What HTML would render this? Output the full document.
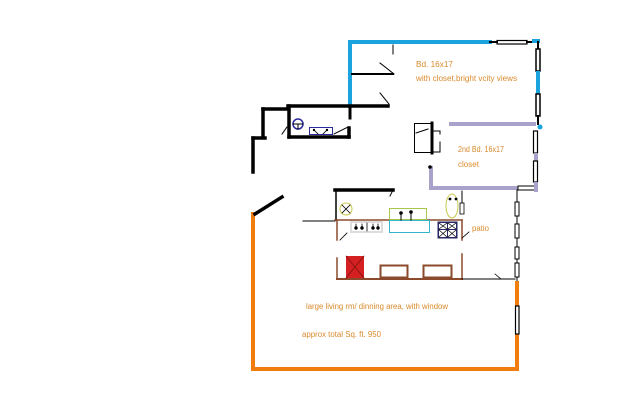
<!DOCTYPE html>
<html><head><meta charset="utf-8"><style>
html,body{margin:0;padding:0;background:#fff;}
svg{display:block;}
text{font-family:"Liberation Sans",sans-serif;font-size:8px;fill:#d98a2b;}
</style></head><body>
<svg width="640" height="400" viewBox="0 0 640 400" xmlns="http://www.w3.org/2000/svg">
<g stroke-linecap="square" fill="none">
<!-- Blue bedroom walls -->
<line x1="350" y1="42" x2="490" y2="42" stroke="#1aa3dc" stroke-width="4"/>
<line x1="350" y1="42" x2="350" y2="106" stroke="#1aa3dc" stroke-width="4"/>
<rect x="497" y="40.5" width="30" height="3.5" fill="#fff" stroke="#000" stroke-width="1.2"/>
<line x1="490" y1="42" x2="497" y2="42" stroke="#000" stroke-width="2"/>
<line x1="527" y1="42" x2="534" y2="42" stroke="#000" stroke-width="2"/>
<line x1="534" y1="41" x2="538" y2="41" stroke="#1aa3dc" stroke-width="4"/>
<!-- right wall upper -->
<line x1="538" y1="42" x2="538" y2="48" stroke="#000" stroke-width="2"/>
<rect x="536" y="49" width="4" height="22" fill="#fff" stroke="#000" stroke-width="1.5"/>
<line x1="538" y1="73" x2="538" y2="92" stroke="#1aa3dc" stroke-width="4"/>
<rect x="536" y="94" width="4" height="22" fill="#fff" stroke="#000" stroke-width="1.5"/>
<line x1="538" y1="116" x2="538" y2="124" stroke="#000" stroke-width="2"/>
<circle cx="540" cy="127" r="2.5" fill="#1aa3dc" stroke="none"/>
<!-- closet lines in bedroom -->
<line x1="352" y1="74" x2="393" y2="74" stroke="#000" stroke-width="2"/>
<line x1="380" y1="63" x2="394" y2="74" stroke="#000" stroke-width="1"/>
<line x1="393" y1="45" x2="393" y2="54" stroke="#000" stroke-width="1"/>
<line x1="380" y1="93" x2="389" y2="104" stroke="#000" stroke-width="1"/>
<!-- black walls -->
<line x1="288" y1="106" x2="388" y2="106" stroke="#000" stroke-width="3.5"/>
<line x1="350" y1="106" x2="350" y2="118" stroke="#000" stroke-width="3"/>
<line x1="263" y1="109" x2="288" y2="109" stroke="#000" stroke-width="3.5"/>
<line x1="263" y1="109" x2="263" y2="137" stroke="#000" stroke-width="3.5"/>
<line x1="253" y1="138" x2="265" y2="138" stroke="#000" stroke-width="3.5"/>
<line x1="253" y1="138" x2="253" y2="172" stroke="#000" stroke-width="3.5"/>
<line x1="289" y1="106" x2="289" y2="137" stroke="#000" stroke-width="3.5"/>
<line x1="289" y1="137" x2="349" y2="137" stroke="#000" stroke-width="3.5"/>
<line x1="349" y1="128" x2="349" y2="137" stroke="#000" stroke-width="3.5"/>
<line x1="282" y1="134" x2="287" y2="127" stroke="#000" stroke-width="1"/>
<line x1="334" y1="134" x2="348" y2="127" stroke="#000" stroke-width="1"/>
<!-- toilet & sink -->
<circle cx="298" cy="124" r="5" stroke="#2a2a9a" stroke-width="1.5"/>
<line x1="293" y1="124" x2="303" y2="124" stroke="#000" stroke-width="1"/>
<line x1="298" y1="124" x2="298" y2="129" stroke="#000" stroke-width="1"/>
<rect x="309.5" y="127.5" width="23" height="7" stroke="#2a2a9a" stroke-width="1"/>
<circle cx="314" cy="130" r="1.2" fill="#000"/><circle cx="327" cy="130" r="1.2" fill="#000"/>
<line x1="314" y1="130" x2="318" y2="134" stroke="#000" stroke-width="0.8"/>
<line x1="327" y1="130" x2="323" y2="134" stroke="#000" stroke-width="0.8"/>
<!-- closet box -->
<rect x="414.5" y="123.5" width="17" height="29" stroke="#000" stroke-width="1"/>
<line x1="416" y1="133" x2="428" y2="129" stroke="#000" stroke-width="1"/>
<line x1="432" y1="123" x2="432" y2="153" stroke="#000" stroke-width="3"/>
<path d="M433 131 H440 V134 M433 152 H440 V142" stroke="#000" stroke-width="1"/>
<!-- purple 2nd bedroom -->
<line x1="451" y1="124" x2="534" y2="124" stroke="#a9a3cc" stroke-width="4"/>
<line x1="431" y1="168" x2="431" y2="188" stroke="#a9a3cc" stroke-width="4"/>
<line x1="431" y1="188" x2="518" y2="188" stroke="#a9a3cc" stroke-width="4"/>
<circle cx="430" cy="167" r="1.8" fill="#000" stroke="none"/>
<rect x="518" y="186" width="17" height="4" fill="#fff" stroke="#000" stroke-width="1"/>
<rect x="533.5" y="131" width="4" height="22" fill="#fff" stroke="#000" stroke-width="1.2"/>
<line x1="536" y1="155" x2="536" y2="160" stroke="#a9a3cc" stroke-width="4"/>
<rect x="533.5" y="161" width="4" height="21" fill="#fff" stroke="#000" stroke-width="1.2"/>
<line x1="536" y1="184" x2="536" y2="190" stroke="#a9a3cc" stroke-width="4"/>
<!-- right window strip lower -->
<line x1="517" y1="190" x2="517" y2="282" stroke="#000" stroke-width="1"/>
<rect x="515" y="202" width="4" height="14" fill="#fff" stroke="#000" stroke-width="1"/>
<rect x="515" y="224" width="4" height="14" fill="#fff" stroke="#000" stroke-width="1"/>
<rect x="515" y="247" width="4" height="12" fill="#fff" stroke="#000" stroke-width="1"/>
<rect x="515" y="263" width="4" height="14" fill="#fff" stroke="#000" stroke-width="1"/>
<!-- orange walls -->
<line x1="253" y1="214" x2="253" y2="369" stroke="#f07d0e" stroke-width="4"/>
<line x1="253" y1="369" x2="517" y2="369" stroke="#f07d0e" stroke-width="4"/>
<line x1="517" y1="283" x2="517" y2="305" stroke="#f07d0e" stroke-width="4"/>
<line x1="517" y1="336" x2="517" y2="369" stroke="#f07d0e" stroke-width="4"/>
<rect x="515.5" y="306" width="3.5" height="28" fill="#fff" stroke="#000" stroke-width="1.2"/>
<line x1="255" y1="214" x2="282" y2="197" stroke="#000" stroke-width="3.5"/>
<!-- kitchen -->
<line x1="335" y1="190" x2="393" y2="190" stroke="#000" stroke-width="3.5"/>
<line x1="393" y1="190" x2="390" y2="196" stroke="#000" stroke-width="1"/>
<line x1="336" y1="190" x2="336" y2="220" stroke="#000" stroke-width="1.5"/>
<circle cx="346" cy="209" r="6" stroke="#c8c84a" stroke-width="1"/>
<path d="M342 205 L350 213 M350 205 L342 213" stroke="#000" stroke-width="0.8"/>
<line x1="303" y1="221" x2="335" y2="221" stroke="#000" stroke-width="1"/>
<line x1="335" y1="220" x2="462" y2="220" stroke="#8b4a2b" stroke-width="1.5"/>
<rect x="350" y="221" width="33" height="12" fill="#ddd" stroke="none"/>
<rect x="352" y="223" width="29" height="8" fill="#fff" stroke="none"/>
<g fill="#000" stroke="#000" stroke-width="0.8">
<circle cx="356" cy="228" r="1.3"/><circle cx="362" cy="228" r="1.3"/><circle cx="373" cy="228" r="1.3"/><circle cx="378" cy="228" r="1.3"/>
<line x1="356" y1="224" x2="356" y2="228"/><line x1="362" y1="224" x2="362" y2="228"/><line x1="373" y1="224" x2="373" y2="228"/><line x1="378" y1="224" x2="378" y2="228"/><line x1="367" y1="223" x2="367" y2="231"/>
</g>
<rect x="389.5" y="208.5" width="37" height="11" stroke="#a8c64a" stroke-width="1"/>
<rect x="389.5" y="220.5" width="40" height="12" stroke="#35b5c9" stroke-width="1"/>
<g stroke="#000" stroke-width="1" fill="#000">
<line x1="401" y1="213" x2="401" y2="220"/><line x1="411" y1="213" x2="411" y2="220"/>
<circle cx="401" cy="213" r="1.3"/><circle cx="411" cy="212" r="1.3"/>
</g>
<rect x="437.5" y="221.5" width="20" height="17" fill="#2a2a6a" stroke="none"/>
<rect x="439" y="223" width="8" height="6" fill="#fff" stroke="none"/><rect x="448" y="223" width="8" height="6" fill="#fff" stroke="none"/>
<rect x="439" y="230" width="8" height="7" fill="#fff" stroke="none"/><rect x="448" y="230" width="8" height="7" fill="#fff" stroke="none"/>
<path d="M439 223 L447 229 M447 223 L439 229 M448 223 L456 229 M456 223 L448 229 M439 230 L447 237 M447 230 L439 237 M448 230 L456 237 M456 230 L448 237" stroke="#000" stroke-width="0.7"/>
<ellipse cx="452" cy="206" rx="6" ry="12" stroke="#c8c84a" stroke-width="1"/>
<circle cx="450" cy="199" r="1.4" fill="#000" stroke="none"/><circle cx="456" cy="199" r="1.4" fill="#000" stroke="none"/>
<rect x="460" y="203" width="4" height="11" fill="#fff" stroke="#000" stroke-width="0.8"/>
<line x1="462" y1="191" x2="462" y2="203" stroke="#000" stroke-width="1"/>
<!-- brown lower -->
<line x1="337" y1="220" x2="337" y2="240" stroke="#8b4a2b" stroke-width="1.5"/>
<line x1="340" y1="240" x2="347" y2="233" stroke="#000" stroke-width="0.8"/>
<line x1="462" y1="220" x2="462" y2="240" stroke="#8b4a2b" stroke-width="1.5"/>
<line x1="462" y1="238" x2="469" y2="232" stroke="#000" stroke-width="0.8"/>
<line x1="462" y1="254" x2="462" y2="279" stroke="#8b4a2b" stroke-width="1.5"/>
<line x1="337" y1="258" x2="337" y2="279" stroke="#8b4a2b" stroke-width="1.5"/>
<line x1="337" y1="279" x2="462" y2="279" stroke="#8b4a2b" stroke-width="2"/>
<line x1="462" y1="279" x2="515" y2="279" stroke="#000" stroke-width="1"/>
<line x1="495" y1="274" x2="501" y2="279" stroke="#000" stroke-width="0.8"/>
<rect x="346" y="256" width="18" height="22" fill="#d42020" stroke="none"/>
<path d="M346 256 L364 278 M364 256 L346 278" stroke="#7a1010" stroke-width="0.7"/>
<rect x="380.5" y="265.5" width="27" height="12" stroke="#8b4a2b" stroke-width="2"/>
<rect x="423.5" y="265.5" width="28" height="12" stroke="#8b4a2b" stroke-width="2"/>
</g>
<text x="416" y="67" textLength="37" lengthAdjust="spacingAndGlyphs">Bd. 16x17</text>
<text x="416" y="81" textLength="101" lengthAdjust="spacingAndGlyphs">with closet,bright vcity views</text>
<text x="458" y="152" textLength="46" lengthAdjust="spacingAndGlyphs">2nd Bd. 16x17</text>
<text x="458" y="167" textLength="21" lengthAdjust="spacingAndGlyphs">closet</text>
<text x="472" y="231" textLength="17" lengthAdjust="spacingAndGlyphs">patio</text>
<text x="306" y="309" textLength="142" lengthAdjust="spacingAndGlyphs">large living rm/ dinning area, with window</text>
<text x="302" y="337" textLength="79" lengthAdjust="spacingAndGlyphs">approx total Sq. ft. 950</text>
</svg>
</body></html>
